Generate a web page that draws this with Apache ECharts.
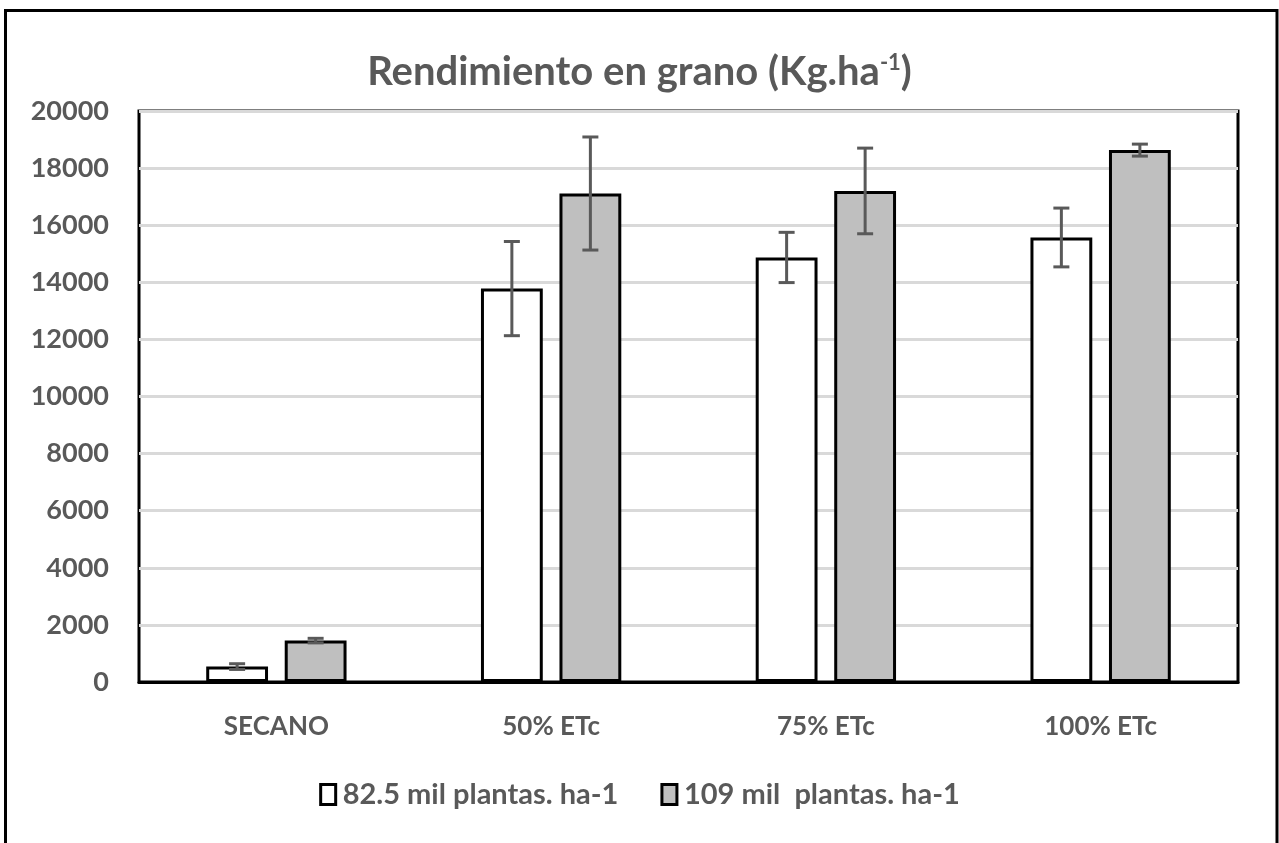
<!DOCTYPE html>
<html>
<head>
<meta charset="utf-8">
<script src="https://cdn.jsdelivr.net/npm/echarts@6/dist/echarts.min.js"></script>
<style>html,body{margin:0;padding:0;background:#fff;}#c{width:1279px;height:843px;}</style>
</head>
<body>
<div id="c"></div>
<script>
const categories = ['SECANO', '50% ETc', '75% ETc', '100% ETc'];
const seriesNames = ['82.5 mil plantas. ha-1', '109 mil  plantas. ha-1'];
const values825 = [540, 13780, 14870, 15570];
const errors825 = [100, 1650, 880, 1030];
const values109 = [1450, 17110, 17200, 18630];
const errors109 = [80, 1980, 1500, 210];
const yTicks = { min: 0, max: 20000, interval: 2000 };

const FONT = 'Lato';
const TXT = '#595959';
const BAR_W = 0.225;   // fraction of band
const GAP = 0.27;      // fraction of bar width

function errData(vals, errs) {
  return vals.map((v, i) => [i, v, v - errs[i], v + errs[i]]);
}
function errRender(side) {
  return function (params, api) {
    const c = api.value(0);
    const lo = api.coord([c, api.value(2)]);
    const hi = api.coord([c, api.value(3)]);
    const band = api.size([1, 0])[0];
    const w = band * BAR_W;
    const off = side * (w + w * GAP) / 2;
    const x = lo[0] + off;
    const cap = 8;
    const st = { stroke: '#595959', lineWidth: 3 };
    return {
      type: 'group',
      children: [
        { type: 'line', shape: { x1: x, y1: lo[1], x2: x, y2: hi[1] }, style: st },
        { type: 'line', shape: { x1: x - cap, y1: lo[1], x2: x + cap, y2: lo[1] }, style: st },
        { type: 'line', shape: { x1: x - cap, y1: hi[1], x2: x + cap, y2: hi[1] }, style: st }
      ]
    };
  };
}

const chart = echarts.init(document.getElementById('c'));
chart.setOption({
  animation: false,
  backgroundColor: '#fff',
  title: {
    text: '{t|Rendimiento en grano (Kg.ha}{s|-1}{t|)}',
    left: 'center',
    top: 47,
    textStyle: {
      rich: {
        t: { fontFamily: FONT, fontSize: 40, fontWeight: 'bold', color: TXT },
        s: { fontFamily: FONT, fontSize: 22, fontWeight: 'bold', color: TXT, verticalAlign: 'top', padding: [0, 0, 16, 0] }
      }
    }
  },
  graphic: [{
    type: 'rect',
    shape: { x: 5.5, y: 10.5, width: 1271.5, height: 850 },
    style: { fill: 'none', stroke: '#000', lineWidth: 3 },
    z: 100
  }],
  legend: {
    bottom: 29,
    left: 'center',
    icon: 'rect',
    itemWidth: 15,
    itemHeight: 20,
    itemGap: 42,
    data: seriesNames,
    textStyle: { fontFamily: FONT, fontSize: 29, fontWeight: 'bold', color: TXT, padding: [0, 0, 0, 2] },
    itemStyle: { borderColor: '#000', borderWidth: 3 }
  },
  grid: {
    left: 139, right: 41, top: 111, bottom: 161,
    show: true, borderColor: '#000', borderWidth: 3, backgroundColor: 'transparent'
  },
  xAxis: {
    type: 'category',
    data: categories,
    axisTick: { show: false },
    axisLine: { show: true, lineStyle: { color: '#000', width: 3 } },
    axisLabel: { fontFamily: FONT, fontSize: 26, fontWeight: 'bold', color: TXT, margin: 32 }
  },
  yAxis: {
    type: 'value',
    min: yTicks.min, max: yTicks.max, interval: yTicks.interval,
    axisLine: { show: false },
    axisTick: { show: false },
    splitLine: { lineStyle: { color: '#d9d9d9', width: 3 } },
    axisLabel: { fontFamily: FONT, fontSize: 27, fontWeight: 'bold', color: TXT, margin: 30, formatter: v => String(v) }
  },
  series: [
    {
      name: seriesNames[0], type: 'bar', data: values825,
      barWidth: (BAR_W * 100) + '%', barGap: (GAP * 100) + '%',
      itemStyle: { color: '#ffffff', borderColor: '#000', borderWidth: 3 }
    },
    {
      name: seriesNames[1], type: 'bar', data: values109,
      barWidth: (BAR_W * 100) + '%', barGap: (GAP * 100) + '%',
      itemStyle: { color: '#bfbfbf', borderColor: '#000', borderWidth: 3 }
    },
    {
      type: 'custom', renderItem: errRender(-1), data: errData(values825, errors825),
      encode: { x: 0, y: [1, 2, 3] }, z: 10, silent: true
    },
    {
      type: 'custom', renderItem: errRender(1), data: errData(values109, errors109),
      encode: { x: 0, y: [1, 2, 3] }, z: 10, silent: true
    }
  ]
});
</script>
</body>
</html>
